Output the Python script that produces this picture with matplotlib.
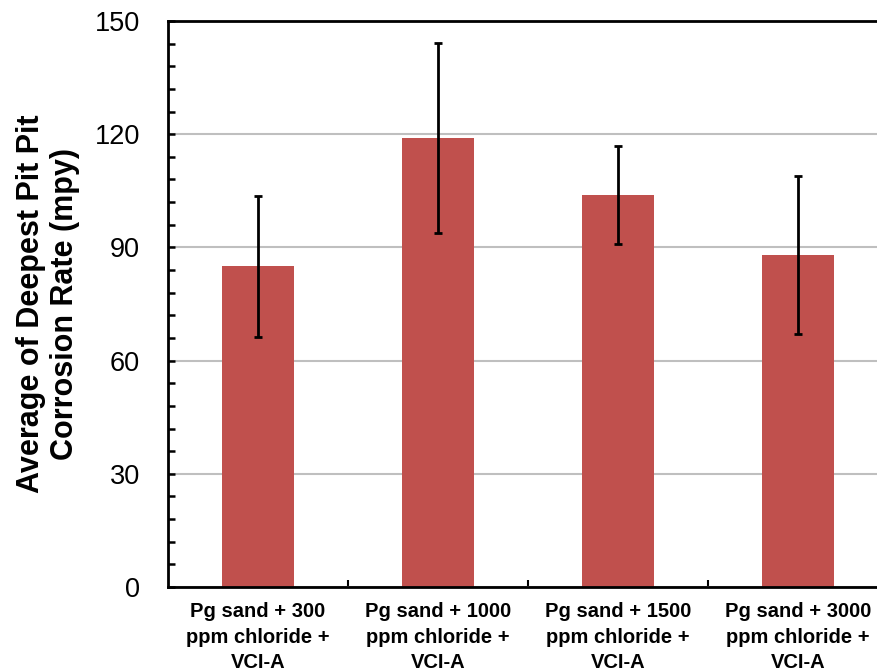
import numpy as np
import matplotlib.pyplot as plt
from matplotlib.ticker import MultipleLocator, FixedLocator

categories = ['Pg sand + 300\nppm chloride +\nVCI-A',
              'Pg sand + 1000\nppm chloride +\nVCI-A',
              'Pg sand + 1500\nppm chloride +\nVCI-A',
              'Pg sand + 3000\nppm chloride +\nVCI-A']
values = [85, 119, 104, 88]
errors = [18.7, 25.2, 13.0, 21.0]
y_ticks = [0, 30, 60, 90, 120, 150]

plt.rcParams['font.family'] = ['Liberation Sans', 'DejaVu Sans']

fig = plt.figure(figsize=(8.77, 6.71), dpi=100)
# axes runs a little past the right edge, like the source image
ax = fig.add_axes([168/877, 1-587/671, 720/877, 566/671])

x = np.arange(len(values))
ax.bar(x, values, width=0.4, color='#C0504D', zorder=2)
ax.errorbar(x, values, yerr=errors, fmt='none', ecolor='black',
            elinewidth=2, capsize=3, capthick=2, zorder=3)

ax.set_xlim(-0.5, 3.5)
ax.set_ylim(0, 150)
ax.set_yticks(y_ticks)
ax.yaxis.set_minor_locator(MultipleLocator(6))
ax.yaxis.grid(True, color='#BFBFBF', lw=1.5, zorder=0)
ax.set_axisbelow(True)

ax.set_xticks(x)
ax.set_xticklabels(categories, fontsize=14.5, fontweight='bold', linespacing=1.42)
ax.xaxis.set_minor_locator(FixedLocator([0.5, 1.5, 2.5, 3.5]))
ax.tick_params(axis='x', which='major', length=0, pad=11)
ax.tick_params(axis='x', which='minor', direction='in', length=5, width=1.5)
ax.tick_params(axis='y', which='both', direction='in', length=5, width=1.8)
ax.tick_params(axis='y', which='major', pad=20, labelsize=19.5)

for s in ['left', 'bottom', 'top']:
    ax.spines[s].set_linewidth(2)
ax.spines['right'].set_visible(False)

ax.set_ylabel('Average of Deepest Pit Pit\nCorrosion Rate (mpy)',
              fontsize=22, fontweight='bold', linespacing=1.15, labelpad=11)

fig.savefig('out.png', dpi=100)
